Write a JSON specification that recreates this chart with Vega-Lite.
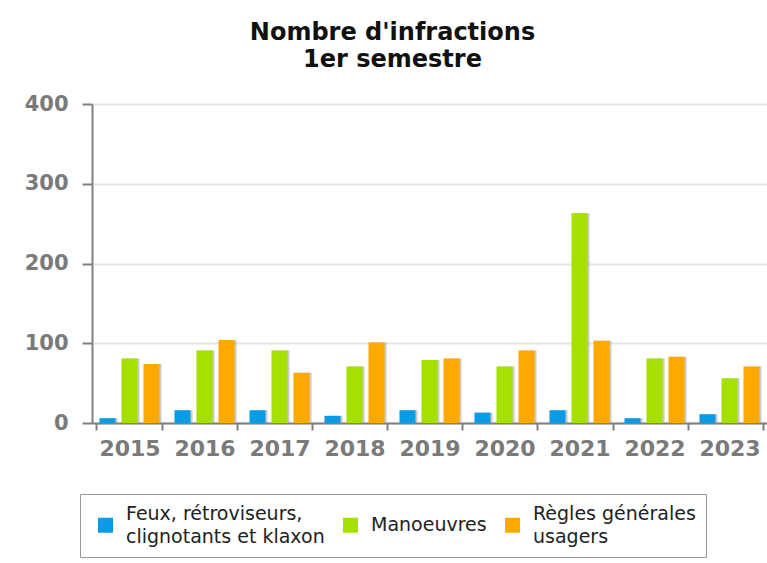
{
  "$schema": "https://vega.github.io/schema/vega-lite/v6.json",
  "width": 675,
  "height": 319,
  "autosize": "none",
  "padding": {"left": 92, "top": 104, "right": 0, "bottom": 140},
  "background": "white",
  "title": {
    "text": ["Nombre d'infractions", "1er semestre"],
    "anchor": "middle",
    "dx": -37,
    "offset": 21,
    "font": "DejaVu Sans",
    "fontSize": 24,
    "fontWeight": "bold",
    "color": "#111",
    "lineHeight": 27
  },
  "data": {
    "values": [
      {"annee": "2015", "cat": "Feux, rétroviseurs,|clignotants et klaxon", "n": 6},
      {"annee": "2015", "cat": "Manoeuvres", "n": 81},
      {"annee": "2015", "cat": "Règles générales|usagers", "n": 74},
      {"annee": "2016", "cat": "Feux, rétroviseurs,|clignotants et klaxon", "n": 16},
      {"annee": "2016", "cat": "Manoeuvres", "n": 91},
      {"annee": "2016", "cat": "Règles générales|usagers", "n": 104},
      {"annee": "2017", "cat": "Feux, rétroviseurs,|clignotants et klaxon", "n": 16},
      {"annee": "2017", "cat": "Manoeuvres", "n": 91},
      {"annee": "2017", "cat": "Règles générales|usagers", "n": 63},
      {"annee": "2018", "cat": "Feux, rétroviseurs,|clignotants et klaxon", "n": 9},
      {"annee": "2018", "cat": "Manoeuvres", "n": 71},
      {"annee": "2018", "cat": "Règles générales|usagers", "n": 101},
      {"annee": "2019", "cat": "Feux, rétroviseurs,|clignotants et klaxon", "n": 16},
      {"annee": "2019", "cat": "Manoeuvres", "n": 79},
      {"annee": "2019", "cat": "Règles générales|usagers", "n": 81},
      {"annee": "2020", "cat": "Feux, rétroviseurs,|clignotants et klaxon", "n": 13},
      {"annee": "2020", "cat": "Manoeuvres", "n": 71},
      {"annee": "2020", "cat": "Règles générales|usagers", "n": 91},
      {"annee": "2021", "cat": "Feux, rétroviseurs,|clignotants et klaxon", "n": 16},
      {"annee": "2021", "cat": "Manoeuvres", "n": 263},
      {"annee": "2021", "cat": "Règles générales|usagers", "n": 103},
      {"annee": "2022", "cat": "Feux, rétroviseurs,|clignotants et klaxon", "n": 6},
      {"annee": "2022", "cat": "Manoeuvres", "n": 81},
      {"annee": "2022", "cat": "Règles générales|usagers", "n": 83},
      {"annee": "2023", "cat": "Feux, rétroviseurs,|clignotants et klaxon", "n": 11},
      {"annee": "2023", "cat": "Manoeuvres", "n": 56},
      {"annee": "2023", "cat": "Règles générales|usagers", "n": 71}
    ]
  },
  "encoding": {
    "x": {
      "field": "annee",
      "type": "nominal",
      "title": null,
      "scale": {"paddingInner": 0.12, "paddingOuter": 0.06},
      "axis": {
        "labelAngle": 0,
        "labelFont": "DejaVu Sans",
        "labelFontSize": 22,
        "labelFontWeight": "bold",
        "labelColor": "#7a7a7a",
        "labelPadding": 8,
        "tickBand": "extent",
        "tickSize": 7,
        "tickColor": "#808080",
        "tickWidth": 2,
        "domainColor": "#808080",
        "domainWidth": 2,
        "grid": false
      }
    },
    "y": {
      "field": "n",
      "type": "quantitative",
      "title": null,
      "scale": {"domain": [0, 400], "nice": false},
      "axis": {
        "values": [0, 100, 200, 300, 400],
        "labelFont": "DejaVu Sans",
        "labelFontSize": 21,
        "labelFontWeight": "bold",
        "labelColor": "#7a7a7a",
        "labelPadding": 14,
        "tickSize": 10,
        "tickColor": "#808080",
        "tickWidth": 2,
        "domainColor": "#808080",
        "domainWidth": 2,
        "grid": true,
        "gridColor": "#e6e6e6",
        "gridWidth": 2
      }
    }
  },
  "layer": [
    {
      "mark": {"type": "bar", "color": "#a0a0a0", "opacity": 0.55},
      "encoding": {
        "xOffset": {
          "field": "cat",
          "type": "nominal",
          "scale": {"paddingInner": 0.27, "paddingOuter": 0.135, "range": [2, 68]}
        }
      }
    },
    {
      "mark": {"type": "bar"},
      "encoding": {
        "xOffset": {
          "field": "cat",
          "type": "nominal",
          "scale": {"paddingInner": 0.27, "paddingOuter": 0.135}
        },
        "color": {
          "field": "cat",
          "type": "nominal",
          "scale": {
            "domain": ["Feux, rétroviseurs,|clignotants et klaxon", "Manoeuvres", "Règles générales|usagers"],
            "range": ["#0a9be6", "#a6e000", "#ffa800"]
          },
          "legend": {
            "orient": "none",
            "legendX": -12,
            "legendY": 390,
            "direction": "horizontal",
            "title": null,
            "labelExpr": "split(datum.label, '|')",
            "labelFont": "DejaVu Sans",
            "labelFontSize": 19,
            "labelColor": "#222",
            "labelLimit": 0,
            "labelOffset": 11,
            "symbolType": "square",
            "symbolSize": 225,
            "symbolStrokeWidth": 0,
            "symbolOffset": 6,
            "columnPadding": 10,
            "padding": 10,
            "strokeColor": "#999",
            "fillColor": "white",
            "encode": {
              "labels": {
                "update": {
                  "lineHeight": {"value": 23}
                }
              },
              "symbols": {
                "update": {
                  "shape": {"signal": "indexof(datum.value, '|') >= 0 ? 'M-1,0.5333H1V2.5333H-1Z' : 'square'"}
                }
              }
            }
          }
        }
      }
    }
  ],
  "resolve": {"scale": {"xOffset": "independent"}},
  "config": {
    "view": {"stroke": null}
  }
}
